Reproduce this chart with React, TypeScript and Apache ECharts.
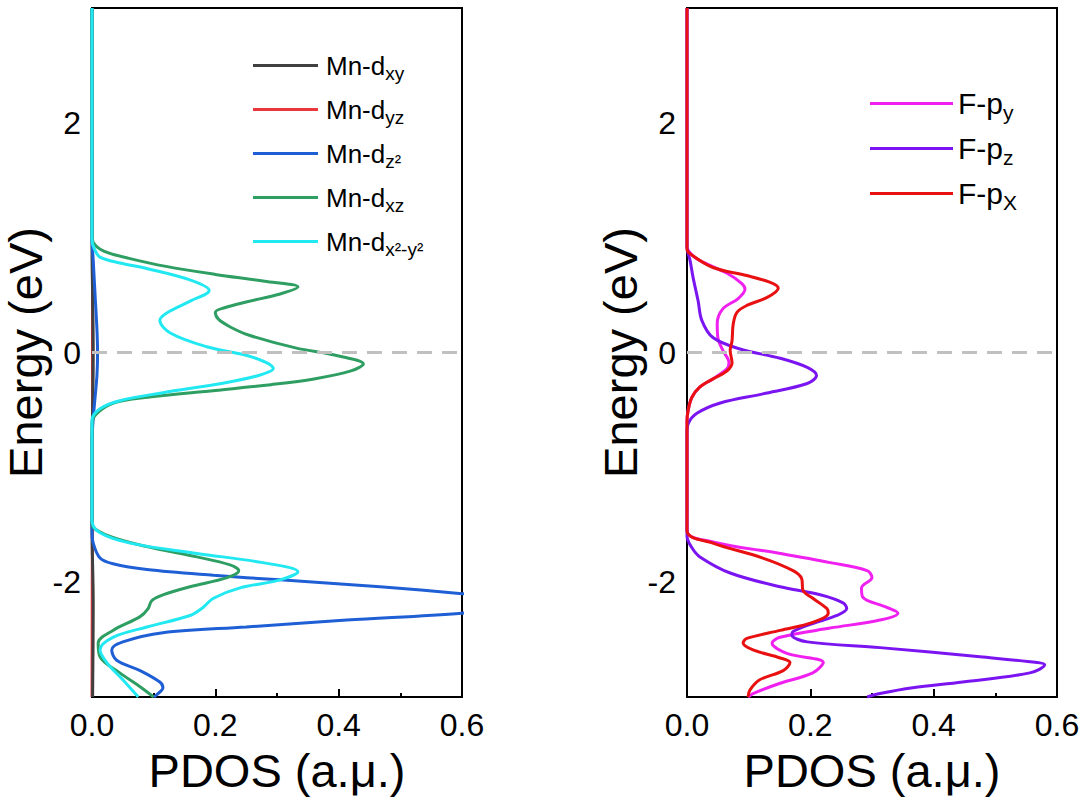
import React, { useEffect, useRef } from 'react';
import * as echarts from 'echarts';

const FONT = '"Liberation Sans", Arial, Helvetica, sans-serif';

// ---------- data: [energy (eV), PDOS] ----------
const mnDxy: [number, number][] = [
  [3, 0], [0.9, 0], [0.5, 0.001], [0, 0.002], [-0.5, 0.001], [-0.8, 0], [-1.5, 0], [-2.2, 0.002], [-3, 0.001],
];
const mnDyz: [number, number][] = [
  [3, 0], [0, 0.001], [-3, 0],
];
const mnDz2: [number, number][] = [
  [3, 0], [1.0, 0], [0.8, 0.002], [0.5, 0.005], [0.2, 0.008], [0, 0.009], [-0.2, 0.008], [-0.45, 0.004],
  [-0.65, 0.001], [-0.8, 0], [-1.55, 0], [-1.66, 0.002], [-1.79, 0.013], [-1.84, 0.034], [-1.89, 0.089],
  [-1.94, 0.197], [-1.98, 0.305], [-2.04, 0.467], [-2.1, 0.6], [-2.18, 0.76], [-2.27, 0.6], [-2.33, 0.413],
  [-2.39, 0.25], [-2.44, 0.115], [-2.52, 0.05], [-2.59, 0.032], [-2.68, 0.04], [-2.77, 0.078], [-2.87, 0.11],
  [-2.92, 0.115], [-2.98, 0.105], [-3, 0.1],
];
const mnDxz: [number, number][] = [
  [3, 0], [1.03, 0], [0.95, 0.003], [0.88, 0.02], [0.82, 0.06], [0.75, 0.12], [0.68, 0.2], [0.62, 0.28],
  [0.57, 0.334], [0.51, 0.305], [0.44, 0.25], [0.39, 0.215], [0.35, 0.2], [0.29, 0.205], [0.22, 0.225],
  [0.15, 0.255], [0.04, 0.33], [-0.03, 0.4], [-0.1, 0.44], [-0.16, 0.42], [-0.23, 0.36], [-0.28, 0.29],
  [-0.33, 0.2], [-0.39, 0.09], [-0.44, 0.035], [-0.53, 0.008], [-0.62, 0], [-1.49, 0], [-1.59, 0.024],
  [-1.69, 0.089], [-1.78, 0.17], [-1.85, 0.224], [-1.9, 0.238], [-1.96, 0.219], [-2.04, 0.159], [-2.11, 0.115],
  [-2.16, 0.097], [-2.23, 0.091], [-2.3, 0.078], [-2.42, 0.034], [-2.53, 0.01], [-2.65, 0.013], [-2.79, 0.045],
  [-2.91, 0.078], [-3, 0.1],
];
const mnDx2y2: [number, number][] = [
  [3, 0], [0.98, 0], [0.9, 0.004], [0.83, 0.013], [0.78, 0.045], [0.73, 0.09], [0.63, 0.16], [0.54, 0.19],
  [0.45, 0.16], [0.34, 0.12], [0.28, 0.11], [0.17, 0.127], [0.05, 0.186], [-0.04, 0.26], [-0.14, 0.294],
  [-0.2, 0.27], [-0.27, 0.21], [-0.35, 0.115], [-0.42, 0.045], [-0.49, 0.013], [-0.59, 0], [-1.46, 0],
  [-1.57, 0.013], [-1.66, 0.062], [-1.75, 0.17], [-1.83, 0.277], [-1.91, 0.334], [-1.98, 0.305], [-2.05, 0.24],
  [-2.14, 0.197], [-2.22, 0.18], [-2.29, 0.159], [-2.39, 0.089], [-2.48, 0.034], [-2.59, 0.013], [-2.7, 0.024],
  [-2.85, 0.05], [-3, 0.075],
];

const fPy: [number, number][] = [
  [3, 0], [0.92, 0], [0.85, 0.008], [0.8, 0.021], [0.69, 0.065], [0.6, 0.089], [0.55, 0.094], [0.47, 0.083],
  [0.38, 0.058], [0.25, 0.049], [0.13, 0.05], [0.02, 0.058], [-0.09, 0.068], [-0.14, 0.065], [-0.23, 0.042],
  [-0.3, 0.021], [-0.39, 0.008], [-0.5, 0.002], [-0.6, 0], [-1.55, 0], [-1.65, 0.042], [-1.75, 0.151],
  [-1.83, 0.232], [-1.9, 0.292], [-1.96, 0.3], [-2.05, 0.283], [-2.13, 0.285], [-2.22, 0.324], [-2.27, 0.342],
  [-2.33, 0.313], [-2.4, 0.232], [-2.48, 0.151], [-2.53, 0.138], [-2.62, 0.162], [-2.7, 0.221], [-2.79, 0.204],
  [-2.88, 0.151], [-2.97, 0.107], [-3, 0.099],
];
const fPz: [number, number][] = [
  [3, 0], [0.92, 0], [0.8, 0.005], [0.65, 0.01], [0.45, 0.018], [0.28, 0.024], [0.13, 0.042], [0.03, 0.086],
  [-0.05, 0.151], [-0.13, 0.195], [-0.2, 0.21], [-0.27, 0.195], [-0.36, 0.123], [-0.44, 0.054], [-0.53, 0.016],
  [-0.62, 0.002], [-0.7, 0], [-1.6, 0], [-1.7, 0.008], [-1.78, 0.021], [-1.92, 0.07], [-2.04, 0.151],
  [-2.11, 0.216], [-2.18, 0.253], [-2.23, 0.259], [-2.29, 0.243], [-2.36, 0.204], [-2.43, 0.172], [-2.46, 0.17],
  [-2.52, 0.195], [-2.57, 0.313], [-2.65, 0.475], [-2.7, 0.568], [-2.72, 0.58], [-2.79, 0.556], [-2.87, 0.447],
  [-2.92, 0.366], [-2.97, 0.313], [-3, 0.292],
];
const fPx: [number, number][] = [
  [3, 0], [0.9, 0], [0.86, 0.005], [0.74, 0.042], [0.67, 0.097], [0.61, 0.135], [0.56, 0.148], [0.48, 0.13],
  [0.41, 0.097], [0.35, 0.081], [0.25, 0.075], [0.1, 0.073], [0.02, 0.07], [-0.09, 0.073], [-0.16, 0.065],
  [-0.23, 0.042], [-0.3, 0.021], [-0.39, 0.008], [-0.5, 0.002], [-0.6, 0], [-1.55, 0], [-1.66, 0.042],
  [-1.79, 0.123], [-1.9, 0.172], [-1.97, 0.186], [-2.07, 0.188], [-2.14, 0.204], [-2.23, 0.227], [-2.27, 0.229],
  [-2.35, 0.204], [-2.42, 0.151], [-2.49, 0.097], [-2.53, 0.091], [-2.59, 0.107], [-2.66, 0.151], [-2.7, 0.167],
  [-2.77, 0.156], [-2.85, 0.118], [-2.94, 0.102], [-3, 0.099],
];

const mnNames = ['Mn-dxy', 'Mn-dyz', 'Mn-dz2', 'Mn-dxz', 'Mn-dx2-y2'];
const mnSubs = ['xy', 'yz', 'z²', 'xz', 'x²-y²'];
const mnData = [mnDxy, mnDyz, mnDz2, mnDxz, mnDx2y2];
// drawing order (bottom to top)
const mnDrawOrder = [1, 0, 2, 3, 4];
const fNames = ['F-py', 'F-pz', 'F-pX'];
const fSubs = ['y', 'z', 'X'];
const fData = [fPy, fPz, fPx];

const xTickValues = [0, 0.2, 0.4, 0.6];
const yTickValues = [-2, 0, 2];

// ---------- styles ----------
const mnColors = ['#404040', '#e8383d', '#1f5fd6', '#2e9e62', '#22e8f2'];
const fColors = ['#f020f0', '#7a14f0', '#e81010'];

const GRIDS = [
  { left: 92, top: 8, width: 370, height: 689 },
  { left: 687, top: 8, width: 370, height: 689 },
];

export default function App() {
  const ref = useRef<HTMLDivElement>(null);
  useEffect(() => {
    if (!ref.current) return;
    const chart = echarts.init(ref.current, undefined, { renderer: 'svg' });

    const mkSeries = (name: string, pts: [number, number][], color: string, idx: number, withMark: boolean) => ({
      type: 'line',
      name,
      xAxisIndex: idx,
      yAxisIndex: idx,
      data: pts.map(([e, v]) => [v, e]),
      smooth: 0.35,
      symbol: 'none',
      showSymbol: false,
      clip: true,
      lineStyle: { color, width: 3 },
      itemStyle: { color },
      markLine: withMark
        ? {
            silent: true,
            symbol: ['none', 'none'],
            label: { show: false },
            lineStyle: { color: '#c0c0c0', type: [15, 10], width: 3 },
            data: [{ yAxis: 0 }],
          }
        : undefined,
    });

    const series: any[] = [];
    mnDrawOrder.forEach((i, k) => series.push(mkSeries(mnNames[i], mnData[i], mnColors[i], 0, k === 0)));
    fNames.forEach((n, i) => series.push(mkSeries(n, fData[i], fColors[i], 1, i === 0)));

    const xAxisBase = (idx: number) => ({
      type: 'value',
      gridIndex: idx,
      min: 0,
      max: 0.6,
      interval: 0.2,
      name: 'PDOS (a.μ.)',
      nameLocation: 'middle',
      nameGap: 50,
      nameTextStyle: { fontSize: 47, color: '#000', fontFamily: FONT },
      axisLine: { show: true, onZero: false, lineStyle: { color: '#000', width: 2 } },
      axisTick: { show: true, inside: true, length: 8, lineStyle: { color: '#000', width: 2 } },
      minorTick: { show: true, splitNumber: 2, length: 4, lineStyle: { color: '#000', width: 2 } },
      splitLine: { show: false },
      minorSplitLine: { show: false },
      axisLabel: {
        fontSize: 32,
        color: '#000',
        fontFamily: FONT,
        margin: 12,
        formatter: (v: number) => (xTickValues.some((t) => Math.abs(t - v) < 1e-6) ? v.toFixed(1) : ''),
      },
    });
    const yAxisBase = (idx: number) => ({
      type: 'value',
      gridIndex: idx,
      min: -3,
      max: 3,
      interval: 1,
      name: 'Energy (eV)',
      nameLocation: 'middle',
      nameGap: 26,
      nameTextStyle: { fontSize: 47, color: '#000', fontFamily: FONT },
      axisLine: { show: true, onZero: false, lineStyle: { color: '#000', width: 2 } },
      axisTick: { show: false },
      splitLine: { show: false },
      axisLabel: {
        fontSize: 32,
        color: '#000',
        fontFamily: FONT,
        margin: 11,
        formatter: (v: number) =>
          yTickValues.indexOf(Math.round(v)) >= 0 && Math.abs(v - Math.round(v)) < 1e-6 ? String(Math.round(v)) : '',
      },
    });

    const legendBase = (
      names: string[],
      subs: string[],
      prefix: string,
      left: number,
      top: number,
      itemWidth: number,
      itemGap: number,
      mainSize: number,
      subSize: number,
      mainLH: number,
      subLH: number,
      subPad: number,
      textPad: number,
    ) => ({
      data: names,
      orient: 'vertical',
      left,
      top,
      padding: 0,
      icon: 'rect',
      itemWidth,
      itemHeight: 3,
      itemGap,
      selectedMode: false,
      formatter: (n: string) => `{m|${prefix}}{s|${subs[names.indexOf(n)]}}`,
      textStyle: {
        color: '#000',
        fontFamily: FONT,
        rich: {
          m: { fontSize: mainSize, lineHeight: mainLH, color: '#000', fontFamily: FONT, padding: [0, 0, 0, textPad] },
          s: { fontSize: subSize, lineHeight: subLH, color: '#000', fontFamily: FONT, padding: [subPad, 0, 0, 0] },
        },
      },
    });

    chart.setOption({
      animation: false,
      backgroundColor: '#fff',
      grid: GRIDS.map((g) => ({ ...g, show: true, borderColor: '#000', borderWidth: 2, containLabel: false })),
      xAxis: [xAxisBase(0), xAxisBase(1)],
      yAxis: [yAxisBase(0), yAxisBase(1)],
      legend: [
        legendBase(mnNames, mnSubs, 'Mn-d', 253, 48, 65, 9, 26, 19, 30, 20, 16, 3),
        legendBase(fNames, fSubs, 'F-p', 870, 84, 83, 6, 30, 21, 34, 22, 18, 0),
      ],
      series,
    });
    return () => chart.dispose();
  }, []);
  return <div ref={ref} style={{ position: 'fixed', left: 0, top: 0, width: 1090, height: 805 }} />;
}
